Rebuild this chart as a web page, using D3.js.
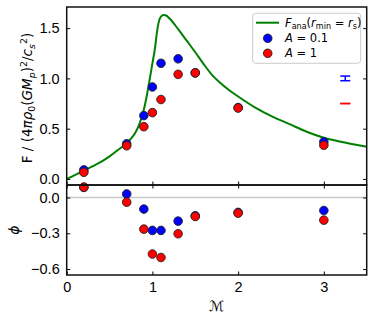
<!DOCTYPE html>
<html>
<head>
<meta charset="utf-8">
<script src="https://cdn.jsdelivr.net/npm/d3@7"></script>
<style>
  body { margin: 0; background: #fff; }
  svg { font-family: 'DejaVu Sans', sans-serif; }
  .tick text { font-size: 14.5px; fill: #000; }
  .tick line { stroke: #000; }
  .domain { display: none; }
</style>
</head>
<body>
<div id="chart"></div>
<script>
// mach numbers of the runs
const machs = [0.2, 0.7, 0.9, 1.0, 1.1, 1.3, 1.5, 2.0, 3.0];
// drag force for both amplitudes
const forceA01 = [0.09, 0.35, 0.63, 0.915, 1.15, 1.195, 1.055, 0.71, 0.37];
const forceA1 = [0.066, 0.33, 0.52, 0.66, 0.79, 1.04, 1.055, 0.705, 0.335];
// phase angle
const phiA01 = [0.085, 0.03, -0.097, -0.276, -0.276, -0.198, -0.153, -0.125, -0.109];
const phiA1 = [0.087, -0.039, -0.265, -0.474, -0.503, -0.304, -0.159, -0.131, -0.19];

// analytic curve
const anaMach = [0.0, 0.1, 0.2, 0.3, 0.4, 0.5, 0.6, 0.7, 0.75, 0.8, 0.85, 0.9, 0.95, 0.98, 1.0, 1.03, 1.05,
  1.08, 1.1, 1.13, 1.16, 1.2, 1.3, 1.4, 1.5, 1.6, 1.7, 1.8, 1.9, 2.0, 2.2, 2.4, 2.6, 2.8, 3.0, 3.2, 3.5];
const anaForce = [0.0, 0.04, 0.083, 0.125, 0.17, 0.225, 0.29, 0.355, 0.40, 0.46, 0.55, 0.69, 0.9, 1.05, 1.15, 1.30, 1.44,
  1.58, 1.615, 1.63, 1.625, 1.595, 1.49, 1.375, 1.26, 1.14, 1.03, 0.95, 0.88, 0.82, 0.71, 0.62, 0.545, 0.47, 0.41, 0.37, 0.32];

// typical error bars shown at the right
const errMach = [3.25, 3.25];
const errCentre = [1.0, 0.75];
const errHalf = [0.023, 0.0];

const forceTicks = [0, 0.5, 1.0, 1.5];
const phiTicks = [0, -0.3, -0.6];
const machTicks = [0, 1, 2, 3];

const W = 374, H = 320;
const left = 66.7, right = 366.7;
const top1 = 7, bot1 = 185, bot2 = 275;
const tick = 3.5;

const svg = d3.select('#chart').append('svg').attr('width', W).attr('height', H);

const x = d3.scaleLinear().domain([0, 3.5]).range([left, right]);
const yF = d3.scaleLinear().domain([-0.06, 1.71]).range([bot1, top1]);
const yP = d3.scaleLinear().domain([-0.65, 0.105]).range([bot2, bot1]);

const fmt1 = d => d3.format('.1f')(d).replace('-', '\u2212');

// clip for the top panel curve
svg.append('clipPath').attr('id', 'clipTop')
  .append('rect').attr('x', left).attr('y', top1).attr('width', right - left).attr('height', bot1 - top1);

// ---- top panel ----
const gTop = svg.append('g');

gTop.append('path')
  .datum(anaMach.map((m, i) => [m, anaForce[i]]))
  .attr('clip-path', 'url(#clipTop)')
  .attr('fill', 'none')
  .attr('stroke', 'green')
  .attr('stroke-width', 2)
  .attr('d', d3.line().x(d => x(d[0])).y(d => yF(d[1])).curve(d3.curveMonotoneX));

function dots(g, ys, yScale, color) {
  g.append('g').selectAll('circle')
    .data(machs.map((m, i) => [m, ys[i]]))
    .join('circle')
    .attr('cx', d => x(d[0]))
    .attr('cy', d => yScale(d[1]))
    .attr('r', 4.3)
    .attr('fill', color)
    .attr('stroke', '#222')
    .attr('stroke-width', 0.9);
}
dots(gTop, forceA01, yF, 'blue');
dots(gTop, forceA1, yF, 'red');

// error bars
const errColors = ['blue', 'red'];
const eb = gTop.append('g').selectAll('g').data(errMach.map((m, i) => ({ m, c: errCentre[i], e: errHalf[i], col: errColors[i] })))
  .join('g').attr('stroke', d => d.col).attr('stroke-width', 1.5);
eb.append('line')
  .attr('x1', d => x(d.m)).attr('x2', d => x(d.m))
  .attr('y1', d => yF(d.c - d.e)).attr('y2', d => yF(d.c + d.e));
[-1, 1].forEach(s => {
  eb.append('line')
    .attr('x1', d => x(d.m) - 5).attr('x2', d => x(d.m) + 5)
    .attr('y1', d => yF(d.c + s * d.e)).attr('y2', d => yF(d.c + s * d.e));
});

// axes top panel
gTop.append('g').attr('transform', `translate(${left},0)`)
  .call(d3.axisLeft(yF).tickValues(forceTicks).tickFormat(fmt1).tickSizeInner(-tick).tickPadding(7));
gTop.append('g').attr('transform', `translate(${right},0)`)
  .call(d3.axisRight(yF).tickValues(forceTicks).tickSizeInner(-tick).tickFormat(''));
gTop.append('g').attr('transform', `translate(0,${bot1})`)
  .call(d3.axisBottom(x).tickValues(machTicks).tickSizeInner(-tick).tickFormat(''));

// ---- bottom panel ----
const gBot = svg.append('g');
gBot.append('line')
  .attr('x1', left).attr('x2', right)
  .attr('y1', yP(0)).attr('y2', yP(0))
  .attr('stroke', '#c8c8c8').attr('stroke-width', 1.5);

dots(gBot, phiA01, yP, 'blue');
dots(gBot, phiA1, yP, 'red');

gBot.append('g').attr('transform', `translate(${left},0)`)
  .call(d3.axisLeft(yP).tickValues(phiTicks).tickFormat(fmt1).tickSizeInner(-tick).tickPadding(7));
gBot.append('g').attr('transform', `translate(${right},0)`)
  .call(d3.axisRight(yP).tickValues(phiTicks).tickSizeInner(-tick).tickFormat(''));
gBot.append('g').attr('transform', `translate(0,${bot1})`)
  .call(d3.axisTop(x).tickValues(machTicks).tickSizeInner(-tick).tickFormat(''));
gBot.append('g').attr('transform', `translate(0,${bot2})`)
  .call(d3.axisBottom(x).tickValues(machTicks).tickFormat(d3.format('d')).tickSizeInner(-tick).tickPadding(7));

// frames
[[top1, bot1], [bot1, bot2]].forEach(([a, b]) => {
  svg.append('rect').attr('x', left).attr('y', a).attr('width', right - left).attr('height', b - a)
    .attr('fill', 'none').attr('stroke', '#111').attr('stroke-width', 1.5);
});

// rich text helper for sub/superscripts
function rich(sel, parts, size) {
  let cur = 0;
  parts.forEach(p => {
    const shift = p.s === 'sub' ? 0.22 * size : p.s === 'sup' ? -0.4 * size : 0;
    sel.append('tspan')
      .attr('dy', shift - cur)
      .style('font-size', p.s ? (size * 0.7) + 'px' : size + 'px')
      .style('font-style', p.i ? 'italic' : 'normal')
      .text(p.t);
    cur = shift;
  });
}

// axis labels
const yl = svg.append('text')
  .attr('transform', `translate(32,${(top1 + bot1) / 2 + 2}) rotate(-90)`)
  .attr('text-anchor', 'middle');
rich(yl, [
  { t: 'F / (4' }, { t: '\u03c0\u03c1', i: true }, { t: '0', s: 'sub' }, { t: '(' }, { t: 'GM', i: true },
  { t: 'p', s: 'sub', i: true }, { t: ')' }, { t: '2', s: 'sup' }, { t: '/' }, { t: 'c', i: true },
  { t: 's', s: 'sub', i: true }, { t: '2', s: 'sup' }, { t: ')' }
], 13.5);

svg.append('text')
  .attr('transform', `translate(19,${(bot1 + bot2) / 2}) rotate(-90)`)
  .attr('text-anchor', 'middle')
  .style('font-size', '14px').style('font-style', 'italic')
  .text('\u03d5');

svg.append('text')
  .attr('x', (left + right) / 2).attr('y', 311)
  .attr('text-anchor', 'middle')
  .style('font-size', '14px')
  .text('\u2133');

// legend
const lg = svg.append('g');
lg.append('rect').attr('x', 252.7).attr('y', 13.3).attr('width', 108).attr('height', 50).attr('rx', 3)
  .attr('fill', 'white').attr('fill-opacity', 0.8).attr('stroke', '#ccc').attr('stroke-width', 1);
lg.append('line').attr('x1', 256).attr('x2', 279).attr('y1', 22.7).attr('y2', 22.7)
  .attr('stroke', 'green').attr('stroke-width', 2);
lg.selectAll('circle').data(['blue', 'red']).join('circle')
  .attr('cx', 267.7).attr('cy', (d, i) => 38.3 + 15 * i).attr('r', 4.3)
  .attr('fill', d => d).attr('stroke', '#222').attr('stroke-width', 0.9);

const t1 = lg.append('text').attr('x', 285).attr('y', 26.7);
rich(t1, [
  { t: 'F', i: true }, { t: 'ana', s: 'sub' }, { t: '(' }, { t: 'r', i: true }, { t: 'min', s: 'sub' },
  { t: ' = ' }, { t: 'r', i: true }, { t: 's', s: 'sub' }, { t: ')' }
], 11.5);
['0.1', '1'].forEach((v, i) => {
  const t = lg.append('text').attr('x', 285).attr('y', 42.3 + 15 * i);
  rich(t, [{ t: 'A', i: true }, { t: ' = ' + v }], 11.5);
});
</script>
</body>
</html>
